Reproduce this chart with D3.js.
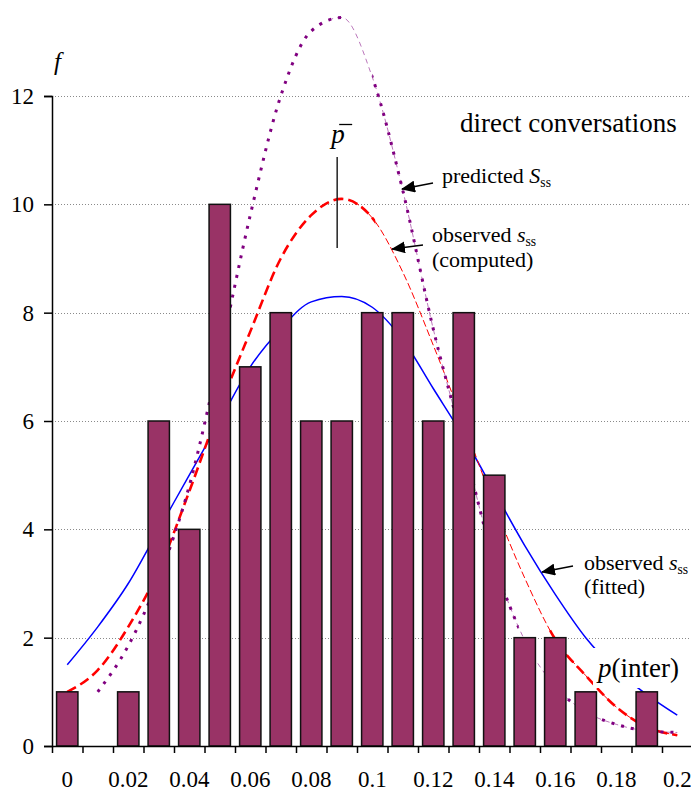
<!DOCTYPE html>
<html>
<head>
<meta charset="utf-8">
<script src="https://cdn.jsdelivr.net/npm/d3@7"></script>
<style>
  body { margin: 0; background: #fff; }
</style>
</head>
<body>
<script>
// p(inter) classes
var pValues = [0, 0.01, 0.02, 0.03, 0.04, 0.05, 0.06, 0.07, 0.08, 0.09, 0.1,
               0.11, 0.12, 0.13, 0.14, 0.15, 0.16, 0.17, 0.18, 0.19, 0.2];

// observed frequencies (bars)
var freq = [1, 0, 1, 6, 4, 10, 7, 8, 6, 6, 8, 8, 6, 8, 5, 2, 2, 1, 0, 1, 0];

// observed s_ss (fitted) - blue
var fitted = [1.5, 2.2, 3.0, 4.0, 5.0, 6.0, 7.0, 7.7, 8.2, 8.3, 8.1,
              7.5, 6.6, 5.7, 4.7, 3.7, 2.8, 2.0, 1.4, 0.95, 0.57];

// observed s_ss (computed) - red
var computed = [1.0, 1.4, 2.2, 3.25, 4.7, 6.25, 7.65, 9.0, 9.8, 10.1, 9.75,
                8.75, 7.4, 5.95, 4.45, 3.1, 1.97, 1.3, 0.72, 0.35, 0.2];

// predicted S_ss - purple
var predicted = [null, 1.0, 1.85, 3.1, 4.8, 7.2, 9.8, 12.0, 13.2, 13.45, 12.35,
                 10.26, 7.7, 5.55, 3.4, 1.95, 1.1, 0.63, 0.4, 0.28, 0.25];

var yTicks = [0, 2, 4, 6, 8, 10, 12];
var xLabels = [0, 0.02, 0.04, 0.06, 0.08, 0.1, 0.12, 0.14, 0.16, 0.18, 0.2];
var pMean = 0.0885;


var W = 691, H = 791;
var m_left = 52, m_right = 692.5, m_bottom = 746, m_top = 96;

var bar_col = "#993366",
    blue = "#0000ff",
    red = "#ff0000",
    purple = "#800080";

var serif = "'Liberation Serif', 'Times New Roman', serif";

var svg = d3.select("body")
    .append("svg")
    .attr("width", W)
    .attr("height", H)
    .style("font-family", serif);

var x = d3.scaleBand()
    .domain(pValues)
    .range([m_left, m_right])
    .paddingInner(0.3)
    .paddingOuter(0.15);

// same axis as a continuous scale, for the curves
var xLin = d3.scaleLinear()
    .domain([-0.005, 0.205])
    .range([m_left, m_right]);

var y = d3.scaleLinear()
    .domain([0, 12])
    .range([m_bottom, m_top]);

var defs = svg.append("defs");

defs.append("marker")
    .attr("id", "arrow")
    .attr("markerUnits", "userSpaceOnUse")
    .attr("markerWidth", 14)
    .attr("markerHeight", 12)
    .attr("refX", 13)
    .attr("refY", 6)
    .attr("orient", "auto")
    .append("path")
    .attr("d", "M0,0 L14,6 L0,12 Z")
    .attr("fill", "black");

// clip regions: where the dashed lines are heavy / light
function addClip(id, ranges) {
    var cp = defs.append("clipPath").attr("id", id);
    ranges.forEach(function(r) {
        cp.append("rect")
            .attr("x", xLin(r[0]))
            .attr("y", 0)
            .attr("width", xLin(r[1]) - xLin(r[0]))
            .attr("height", H);
    });
}
addClip("redThick", [[-0.01, 0.101], [0.158, 0.22]]);
addClip("redThin", [[0.095, 0.22]]);
addClip("purpleThick", [[-0.01, 0.09], [0.10, 0.148], [0.163, 0.22]]);
addClip("purpleThin", [[0.086, 0.22]]);

// ==== gridlines ====
svg.append("g")
    .selectAll("line")
    .data(yTicks.filter(function(d) { return d > 0; }))
    .enter().append("line")
    .attr("x1", m_left)
    .attr("x2", W)
    .attr("y1", function(d) { return Math.round(y(d)) + 0.5; })
    .attr("y2", function(d) { return Math.round(y(d)) + 0.5; })
    .attr("stroke", "#8a8a8a")
    .attr("stroke-width", 1)
    .attr("stroke-dasharray", "1,2");

// ==== curves ====
function series(vals) {
    return pValues.map(function(p, i) { return { p: p, f: vals[i] }; });
}

var line = d3.line()
    .defined(function(d) { return d.f != null; })
    .x(function(d) { return xLin(d.p); })
    .y(function(d) { return y(d.f); })
    .curve(d3.curveMonotoneX);

var curves = svg.append("g");

curves.append("path")
    .attr("d", line(series(fitted)))
    .attr("fill", "none")
    .attr("stroke", blue)
    .attr("stroke-width", 1.5);

curves.append("path")
    .attr("d", line(series(computed)))
    .attr("clip-path", "url(#redThin)")
    .attr("fill", "none")
    .attr("stroke", red)
    .attr("stroke-width", 1)
    .attr("stroke-dasharray", "7,3");

curves.append("path")
    .attr("d", line(series(computed)))
    .attr("clip-path", "url(#redThick)")
    .attr("fill", "none")
    .attr("stroke", red)
    .attr("stroke-width", 2.6)
    .attr("stroke-dasharray", "10,5");

curves.append("path")
    .attr("d", line(series(predicted)))
    .attr("clip-path", "url(#purpleThin)")
    .attr("fill", "none")
    .attr("stroke", purple)
    .attr("stroke-width", 0.9)
    .attr("stroke-dasharray", "5,4")
    .attr("opacity", 0.6);

curves.append("path")
    .attr("d", line(series(predicted)))
    .attr("clip-path", "url(#purpleThick)")
    .attr("fill", "none")
    .attr("stroke", purple)
    .attr("stroke-width", 3)
    .attr("stroke-dasharray", "3,7");

// ==== bars ====
svg.append("g")
    .selectAll("rect")
    .data(pValues.map(function(p, i) { return { p: p, f: freq[i] }; }).filter(function(d) { return d.f > 0; }))
    .enter().append("rect")
    .attr("x", function(d) { return x(d.p); })
    .attr("y", function(d) { return y(d.f); })
    .attr("width", x.bandwidth())
    .attr("height", function(d) { return y(0) - y(d.f); })
    .attr("fill", bar_col)
    .attr("stroke", "#111")
    .attr("stroke-width", 1.5);

// ==== axes ====
var yAxis = svg.append("g")
    .attr("transform", "translate(" + m_left + ",0)")
    .call(d3.axisLeft(y).tickValues(yTicks).tickSize(8).tickPadding(10));

var boundaries = pValues.map(function(p) { return p - 0.005; }).concat([0.205]);

var xTicks = svg.append("g")
    .attr("transform", "translate(0," + m_bottom + ")")
    .call(d3.axisBottom(xLin).tickValues(boundaries).tickFormat("").tickSize(7).tickSizeOuter(0));

var xLab = svg.append("g")
    .attr("transform", "translate(0," + m_bottom + ")")
    .call(d3.axisBottom(x).tickValues(xLabels).tickSize(0).tickPadding(25)
        .tickFormat(function(d) { return String(d); }));
xLab.select(".domain").remove();

[yAxis, xTicks].forEach(function(g) {
    g.selectAll("path, line")
        .attr("stroke", "black")
        .attr("stroke-width", 1.5);
});

[yAxis, xLab].forEach(function(g) {
    g.selectAll("text")
        .attr("font-family", serif)
        .attr("font-size", "23px")
        .attr("fill", "black");
});

// ==== labels ====
function label(xp, yp, size, parts) {
    var t = svg.append("text")
        .attr("x", xp)
        .attr("y", yp)
        .attr("font-size", size + "px")
        .attr("fill", "black");
    parts.forEach(function(part) {
        var s = t.append("tspan").text(part.t);
        if (part.i) s.attr("font-style", "italic");
        if (part.sub) s.attr("font-size", (size * 0.62) + "px").attr("dy", 4);
    });
    return t;
}

function arrow(x1, y1, x2, y2) {
    svg.append("line")
        .attr("x1", x1).attr("y1", y1)
        .attr("x2", x2).attr("y2", y2)
        .attr("stroke", "black")
        .attr("stroke-width", 1.5)
        .attr("marker-end", "url(#arrow)");
}

label(54, 70, 25, [{ t: "f", i: true }]);

label(460, 132, 27, [{ t: "direct conversations" }]);

label(442, 183, 22, [{ t: "predicted " }, { t: "S", i: true }, { t: "ss", sub: true }]);
arrow(433, 183, 402, 189);

label(432, 242, 22, [{ t: "observed " }, { t: "s", i: true }, { t: "ss", sub: true }]);
label(432, 267, 22, [{ t: "(computed)" }]);
arrow(423, 245, 392, 249);

label(584, 570, 22, [{ t: "observed " }, { t: "s", i: true }, { t: "ss", sub: true }]);
label(584, 594, 22, [{ t: "(fitted)" }]);
arrow(573, 566, 542, 572);

svg.append("rect")
    .attr("x", 593)
    .attr("y", 648)
    .attr("width", 98)
    .attr("height", 40)
    .attr("fill", "white");
label(598, 677, 27, [{ t: "p", i: true }, { t: "(inter)" }]);

// mean marker
var mx = xLin(pMean);
svg.append("line")
    .attr("x1", mx).attr("x2", mx)
    .attr("y1", 157).attr("y2", 248)
    .attr("stroke", "#222")
    .attr("stroke-width", 1.5);
label(mx - 6, 143, 27, [{ t: "p", i: true }]);
svg.append("line")
    .attr("x1", mx + 2).attr("x2", mx + 15)
    .attr("y1", 124.5).attr("y2", 124.5)
    .attr("stroke", "black")
    .attr("stroke-width", 1.3);
</script>
</body>
</html>
